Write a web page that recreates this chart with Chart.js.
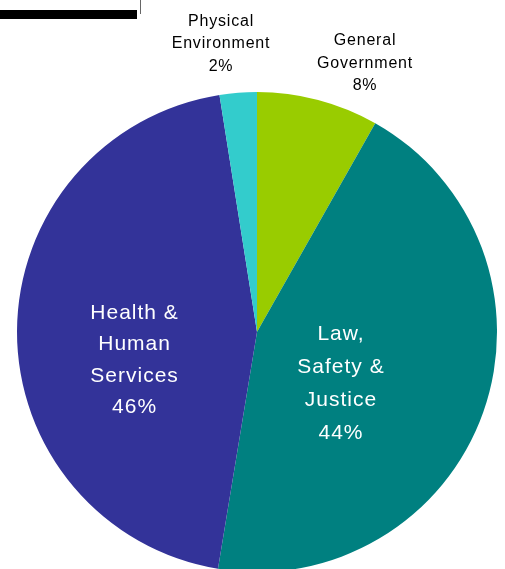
<!DOCTYPE html>
<html>
<head>
<meta charset="utf-8">
<script src="https://cdn.jsdelivr.net/npm/chart.js@4/dist/chart.umd.min.js"></script>
<style>
    html, body { margin: 0; padding: 0; background: #fff; overflow: hidden; width: 505px; height: 569px; }
    #wrap { position: relative; width: 505px; height: 569px; overflow: hidden; }
    #main-chart { position: absolute; left: 0; top: 0; }
    .bar { position: absolute; left: 0; top: 10px; width: 137px; height: 9px; background: #000; }
    .tick { position: absolute; left: 140px; top: 0; width: 1px; height: 14px; background: #666; }
</style>
</head>
<body>
<div id="wrap">
    <canvas id="main-chart" width="505" height="600"></canvas>
    <div class="bar"></div>
    <div class="tick"></div>
</div>
<script>
    // slices, clockwise from 12 o'clock
    const categories = ['General Government', 'Law, Safety & Justice', 'Health & Human Services', 'Physical Environment'];
    const shares = [8.2, 44.4, 44.9, 2.5];
    const percentLabels = ['8%', '44%', '46%', '2%'];
    const labelLines = [
        ['General', 'Government'],
        ['Law,', 'Safety &', 'Justice'],
        ['Health &', 'Human', 'Services'],
        ['Physical', 'Environment']
    ];
    const colors = ['#99CC00', '#008080', '#333399', '#33CCCC'];

    // label anchor relative to pie centre, in units of radius
    const labelPos = [
        { dx: 0.45, dy: -1.12, size: 16, gap: 22.5, color: '#000', spacing: '0.8px' },
        { dx: 0.35, dy: 0.215, size: 21, gap: 32.8, color: '#fff', spacing: '1px' },
        { dx: -0.51, dy: 0.118, size: 21, gap: 31.5, color: '#fff', spacing: '1px' },
        { dx: -0.15, dy: -1.20, size: 16, gap: 22.5, color: '#000', spacing: '0.8px' }
    ];

    const sliceLabels = {
        id: 'sliceLabels',
        afterDatasetsDraw(chart) {
            const ctx = chart.ctx;
            const arcs = chart.getDatasetMeta(0).data;
            arcs.forEach((arc, i) => {
                const p = arc.getProps(['x', 'y', 'outerRadius'], true);
                const pos = labelPos[i];
                const lines = labelLines[i].concat([percentLabels[i]]);
                const cx = p.x + pos.dx * p.outerRadius;
                const cy = p.y + pos.dy * p.outerRadius;
                ctx.save();
                ctx.font = pos.size + 'px "Liberation Sans", Arial, sans-serif';
                ctx.fillStyle = pos.color;
                ctx.textAlign = 'center';
                ctx.textBaseline = 'middle';
                ctx.letterSpacing = pos.spacing;
                const top = cy - (lines.length - 1) * pos.gap / 2;
                lines.forEach((t, j) => ctx.fillText(t, cx, top + j * pos.gap));
                ctx.restore();
            });
        }
    };

    new Chart(document.getElementById('main-chart'), {
        type: 'pie',
        data: {
            labels: categories,
            datasets: [{
                data: shares,
                backgroundColor: colors,
                borderWidth: 0
            }]
        },
        options: {
            responsive: false,
            animation: false,
            layout: { padding: { left: 17, right: 8, top: 92, bottom: 28 } },
            plugins: {
                legend: { display: false },
                tooltip: { enabled: false }
            }
        },
        plugins: [sliceLabels]
    });
</script>
</body>
</html>
